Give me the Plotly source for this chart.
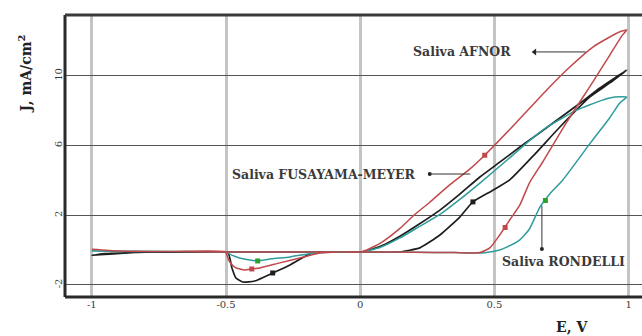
import plotly.graph_objects as go

# ---------------- data (E in V, J in mA/cm2) ----------------
afnor_E = [-1.0, -0.9, -0.7, -0.5, -0.3, 0.0, 0.2, 0.35, 0.446, 0.483, 0.52, 0.557, 0.595, 0.632, 0.68, 0.77, 0.867, 0.93, 0.975, 0.993,
           0.97, 0.92, 0.867, 0.78, 0.695, 0.58, 0.464, 0.408, 0.33, 0.259, 0.2, 0.148, 0.08, 0.006,
           -0.08, -0.15, -0.225, -0.30, -0.374, -0.404, -0.43, -0.465, -0.486, -0.497, -0.5, -0.7, -0.9, -1.0]
afnor_J = [0.05, -0.05, -0.08, -0.1, -0.1, -0.1, -0.12, -0.14, -0.14, 0.13, 0.87, 1.73, 2.6, 3.9, 5.06, 7.36, 9.66, 11.2, 12.3, 12.64,
           12.55, 12.15, 11.66, 10.5, 9.2, 7.3, 5.45, 4.65, 3.7, 2.75, 2.0, 1.25, 0.45, -0.1,
           -0.1, -0.16, -0.45, -0.73, -1.02, -1.08, -1.14, -1.0, -0.68, -0.28, -0.1, -0.08, -0.05, 0.05]

fm_E = [-1.0, -0.95, -0.8, -0.5, -0.3, 0.0, 0.1, 0.148, 0.222, 0.297, 0.371, 0.42, 0.49, 0.557, 0.65, 0.744, 0.856, 0.93, 0.993,
        0.95, 0.893, 0.82, 0.744, 0.67, 0.595, 0.52, 0.446, 0.37, 0.297, 0.22, 0.148, 0.073, 0.006,
        -0.08, -0.15, -0.188, -0.262, -0.326, -0.393, -0.437, -0.463, -0.478, -0.493, -0.6, -0.8, -1.0]
fm_J = [-0.3, -0.2, -0.12, -0.1, -0.1, -0.1, -0.12, -0.1, 0.13, 0.87, 1.9, 2.77, 3.4, 4.03, 5.5, 7.07, 8.8, 9.6, 10.34,
        9.9, 9.31, 8.45, 7.59, 6.75, 5.92, 5.05, 4.2, 3.2, 2.3, 1.5, 0.8, 0.2, -0.1,
        -0.1, -0.1, -0.22, -0.85, -1.31, -1.77, -1.83, -1.6, -1.02, -0.16, -0.12, -0.1, -0.3]

ron_E = [-1.0, -0.9, -0.7, -0.5, -0.3, 0.0, 0.2, 0.35, 0.457, 0.52, 0.55, 0.595, 0.63, 0.67, 0.71, 0.755, 0.86, 0.93, 0.967, 0.993,
         0.97, 0.93, 0.9, 0.856, 0.8, 0.744, 0.69, 0.632, 0.557, 0.446, 0.37, 0.297, 0.22, 0.148, 0.073, 0.006,
         -0.08, -0.17, -0.262, -0.33, -0.382, -0.45, -0.49, -0.5, -0.7, -1.0]
ron_J = [-0.05, -0.08, -0.08, -0.1, -0.1, -0.1, -0.12, -0.14, -0.16, 0.01, 0.2, 0.59, 1.2, 2.48, 3.3, 4.03, 6.2, 7.6, 8.45, 8.79,
         8.8, 8.74, 8.6, 8.35, 8.0, 7.5, 7.0, 6.3, 5.3, 3.85, 2.9, 2.05, 1.35, 0.7, 0.15, -0.1,
         -0.1, -0.16, -0.39, -0.5, -0.62, -0.45, -0.2, -0.1, -0.08, -0.05]

# marker points on the curves
afnor_mk_E = [-0.404, 0.464, 0.54]
afnor_mk_J = [-1.08, 5.45, 1.3]
fm_mk_E = [-0.326, 0.42]
fm_mk_J = [-1.31, 2.77]
ron_mk_E = [-0.382, 0.69]
ron_mk_J = [-0.62, 2.85]

x_ticks = [-1, -0.5, 0, 0.5, 1]
x_tick_text = ["-1", "-0.5", "0", "0.5", "1"]
y_ticks = [-2, 2, 6, 10]
y_tick_text = ["-2", "2", "6", "10"]

RED = "#c0484b"
BLACK = "#1e1e1e"
TEAL = "#2f9c9c"
GREEN = "#2ea02e"

fig = go.Figure()
for E, J, col, w in [(fm_E, fm_J, BLACK, 1.7), (ron_E, ron_J, TEAL, 1.5), (afnor_E, afnor_J, RED, 1.5)]:
    fig.add_trace(go.Scatter(x=E, y=J, mode="lines", line=dict(color=col, width=w, shape="spline", smoothing=0.5),
                             showlegend=False, hoverinfo="skip"))
for E, J, col in [(afnor_mk_E, afnor_mk_J, RED), (fm_mk_E, fm_mk_J, BLACK), (ron_mk_E, ron_mk_J, GREEN)]:
    fig.add_trace(go.Scatter(x=E, y=J, mode="markers", marker=dict(color=col, size=5, symbol="square"),
                             showlegend=False, hoverinfo="skip"))

FONT = "DejaVu Serif"
TXT = "#3a3a3a"
fig.update_layout(
    width=642, height=336,
    margin=dict(l=65, r=0, t=15, b=39, autoexpand=False),
    paper_bgcolor="white", plot_bgcolor="white",
    font=dict(family=FONT, size=10, color=TXT),
    xaxis=dict(range=[-1.1, 1.05], tickvals=x_ticks, ticktext=x_tick_text, showgrid=True, automargin=False,
               gridcolor="#c4c4c4", gridwidth=3, zeroline=False, showline=False, ticks="",
               tickfont=dict(family=FONT, size=10, color=TXT)),
    yaxis=dict(range=[-2.69, 13.5], tickvals=y_ticks, ticktext=y_tick_text, showgrid=True, automargin=False,
               gridcolor="#555555", gridwidth=1.2, zeroline=False, showline=False, ticks="",
               tickangle=-90, tickfont=dict(family=FONT, size=10, color=TXT)),
)

# frame (left, top, bottom)
fig.add_shape(type="line", xref="paper", yref="paper", x0=0, x1=0, y0=0, y1=1, line=dict(color="#2a2a2a", width=3))
fig.add_shape(type="line", xref="paper", yref="paper", x0=0, x1=1, y0=1, y1=1, line=dict(color="#3a3a3a", width=3))
fig.add_shape(type="line", xref="paper", yref="paper", x0=0, x1=1, y0=0, y1=0, line=dict(color="#2a2a2a", width=3))

# annotation pointers
fig.add_shape(type="line", x0=0.65, x1=0.84, y0=11.38, y1=11.38, line=dict(color="#333", width=1))
fig.add_shape(type="line", x0=0.259, x1=0.41, y0=4.37, y1=4.37, line=dict(color="#333", width=1))
fig.add_shape(type="line", x0=0.677, x1=0.677, y0=0.07, y1=2.55, line=dict(color="#333", width=1))
fig.add_trace(go.Scatter(x=[0.65], y=[11.38], mode="markers",
                         marker=dict(color="#222", size=6, symbol="triangle-left"), showlegend=False, hoverinfo="skip"))
fig.add_trace(go.Scatter(x=[0.259, 0.677], y=[4.37, 0.07], mode="markers",
                         marker=dict(color="#222", size=4), showlegend=False, hoverinfo="skip"))

ann_font = dict(family=FONT, size=12.5, color=TXT)
fig.add_annotation(x=0.569, y=11.38, text="<b>Saliva AFNOR</b>", showarrow=False, xanchor="right", yanchor="middle", font=ann_font)
fig.add_annotation(x=0.215, y=4.37, text="<b>Saliva FUSAYAMA-MEYER</b>", showarrow=False, xanchor="right", yanchor="middle", font=ann_font)
fig.add_annotation(x=0.52, y=-0.68, text="<b>Saliva RONDELLI</b>", showarrow=False, xanchor="left", yanchor="middle", font=ann_font)

fig.add_annotation(xref="paper", yref="paper", x=-0.069, y=0.79, text="<b>J, mA/cm<sup>2</sup></b>",
                   textangle=-90, showarrow=False, xanchor="center", yanchor="middle",
                   font=dict(family=FONT, size=14, color="#222"))
fig.add_annotation(xref="paper", yref="paper", x=0.879, y=-0.106, text="<b>E, V</b>",
                   showarrow=False, xanchor="center", yanchor="middle", font=dict(family=FONT, size=14, color="#222"))

fig.write_html("out.html", config={"displayModeBar": False},
               post_script="document.body.style.margin='0';document.body.style.overflow='hidden';")
